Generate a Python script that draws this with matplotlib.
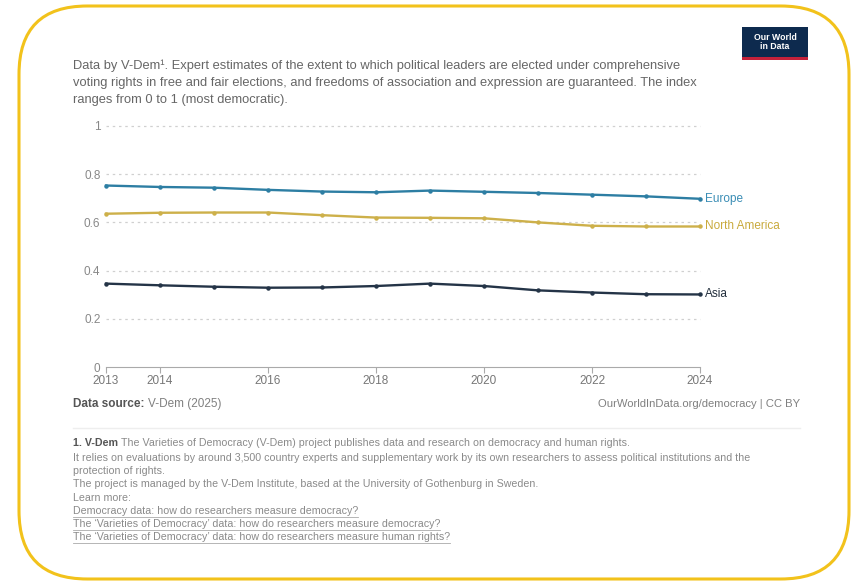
import matplotlib.pyplot as plt
from matplotlib.patches import FancyBboxPatch, Rectangle

years = list(range(2013, 2025))
europe = [0.753, 0.747, 0.744, 0.735, 0.728, 0.725, 0.732, 0.727, 0.722, 0.715, 0.708, 0.698]
north_america = [0.636, 0.640, 0.641, 0.641, 0.630, 0.620, 0.619, 0.617, 0.600, 0.586, 0.583, 0.583]
asia = [0.346, 0.339, 0.333, 0.329, 0.330, 0.336, 0.346, 0.336, 0.318, 0.309, 0.302, 0.301]
series_names = ["Europe", "North America", "Asia"]
xticks = [2013, 2014, 2016, 2018, 2020, 2022, 2024]
yticks = [0, 0.2, 0.4, 0.6, 0.8, 1]
ytick_labels = ["0", "0.2", "0.4", "0.6", "0.8", "1"]

plt.rcParams["font.family"] = ["Liberation Sans", "DejaVu Sans"]

W, H = 853, 588
fig = plt.figure(figsize=(W / 100, H / 100), dpi=100)
fig.patch.set_facecolor("white")

def fx(px):
    return px / W

def fy(py):
    return 1 - py / H

# rounded yellow frame
frame = FancyBboxPatch((fx(19), fy(579)), fx(849) - fx(19), fy(6) - fy(579),
                       boxstyle="round,pad=0,rounding_size=0.08",
                       transform=fig.transFigure, facecolor="none",
                       edgecolor="#f2c21b", linewidth=2.2, mutation_aspect=W / H)
fig.patches.append(frame)

ax = fig.add_axes([fx(106), fy(367), fx(700) - fx(106), fy(126) - fy(367)])
ax.set_facecolor("none")

colors = {"Europe": "#2d7ea3", "North America": "#cdb04a", "Asia": "#243447"}
label_colors = {"Europe": "#3a8db5", "North America": "#c9aa3c", "Asia": "#222e3c"}
data = {"Europe": europe, "North America": north_america, "Asia": asia}

for yv in yticks[1:]:
    ax.plot([2013, 2024], [yv, yv], color="#d0d0d0", linewidth=0.9,
            linestyle=(0, (2, 3)), zorder=1, clip_on=False)

for name in series_names:
    vals = data[name]
    ax.plot(years, vals, color=colors[name], linewidth=1.7, zorder=2,
            marker="o", markersize=2.2, clip_on=False)
    ax.text(2024.1, vals[-1], name, color=label_colors[name], fontsize=8.5,
            va="center", ha="left")

ax.set_xlim(2013, 2024)
ax.set_ylim(0, 1)
for s in ["top", "right", "left"]:
    ax.spines[s].set_visible(False)
ax.spines["bottom"].set_color("#aaaaaa")
ax.set_xticks(xticks)
ax.set_xticklabels([str(x) for x in xticks])
ax.set_yticks(yticks)
ax.set_yticklabels(ytick_labels)
ax.tick_params(axis="x", colors="#aaaaaa", labelcolor="#777777", labelsize=8.5,
               length=4, direction="out", pad=2)
ax.tick_params(axis="y", length=0, labelcolor="#888888", labelsize=8.5, pad=4)

gray = "#666666"
subtitle = ("Data by V-Dem¹. Expert estimates of the extent to which political leaders are elected under comprehensive\n"
            "voting rights in free and fair elections, and freedoms of association and expression are guaranteed. The index\n"
            "ranges from 0 to 1 (most democratic).")
fig.text(fx(73), fy(60), subtitle, fontsize=9.3, color=gray, va="top",
         ha="left", linespacing=1.55)

renderer = fig.canvas.get_renderer()

def follow(first, txt, **kw):
    bb = first.get_window_extent(renderer)
    x = (bb.x1 + 3) / W
    return fig.text(x, first.get_position()[1], txt, **kw)

t1 = fig.text(fx(73), fy(404), "Data source:", fontsize=8.5, color="#555555",
              fontweight="bold", va="center")
follow(t1, "V-Dem (2025)", fontsize=8.5, color="#808080", va="center")
fig.text(fx(800), fy(404), "OurWorldInData.org/democracy | CC BY", fontsize=8.1,
         color="#808080", va="center", ha="right")

fig.add_artist(plt.Line2D([fx(73), fx(800)], [fy(428), fy(428)],
                          transform=fig.transFigure, color="#eeeeee", linewidth=1))

fs = 7.7
t2 = fig.text(fx(73), fy(443), "1. V-Dem", fontsize=fs, color="#555555",
              fontweight="bold", va="center")
follow(t2, "The Varieties of Democracy (V-Dem) project publishes data and research on democracy and human rights.",
       fontsize=fs, color="#8a8a8a", va="center")
foot = [
    "It relies on evaluations by around 3,500 country experts and supplementary work by its own researchers to assess political institutions and the",
    "protection of rights.",
    "The project is managed by the V-Dem Institute, based at the University of Gothenburg in Sweden.",
    "Learn more:",
]
for i, line in enumerate(foot):
    fig.text(fx(73), fy(458 + i * 13.2), line, fontsize=fs, color="#8a8a8a", va="center")
links = [
    "Democracy data: how do researchers measure democracy?",
    "The \u2018Varieties of Democracy\u2019 data: how do researchers measure democracy?",
    "The \u2018Varieties of Democracy\u2019 data: how do researchers measure human rights?",
]
for i, line in enumerate(links):
    t = fig.text(fx(73), fy(511 + i * 13), line, fontsize=fs, color="#8a8a8a",
                 va="center")
    bb = t.get_window_extent(renderer)
    fig.add_artist(plt.Line2D([bb.x0 / W, bb.x1 / W],
                              [fy(517 + i * 13), fy(517 + i * 13)],
                              transform=fig.transFigure, color="#aaaaaa", linewidth=0.6))

# logo
fig.patches.append(Rectangle((fx(742), fy(60)), fx(66), fy(27) - fy(60),
                             transform=fig.transFigure, facecolor="#0d2a4e",
                             edgecolor="none"))
fig.patches.append(Rectangle((fx(742), fy(60)), fx(66), fy(57) - fy(60),
                             transform=fig.transFigure, facecolor="#c4213a",
                             edgecolor="none"))
fig.text(fx(775), fy(42), "Our World\nin Data", fontsize=6.3, color="white",
         ha="center", va="center", fontweight="bold", linespacing=1.1)

fig.savefig("out.png", dpi=100, facecolor="white")
